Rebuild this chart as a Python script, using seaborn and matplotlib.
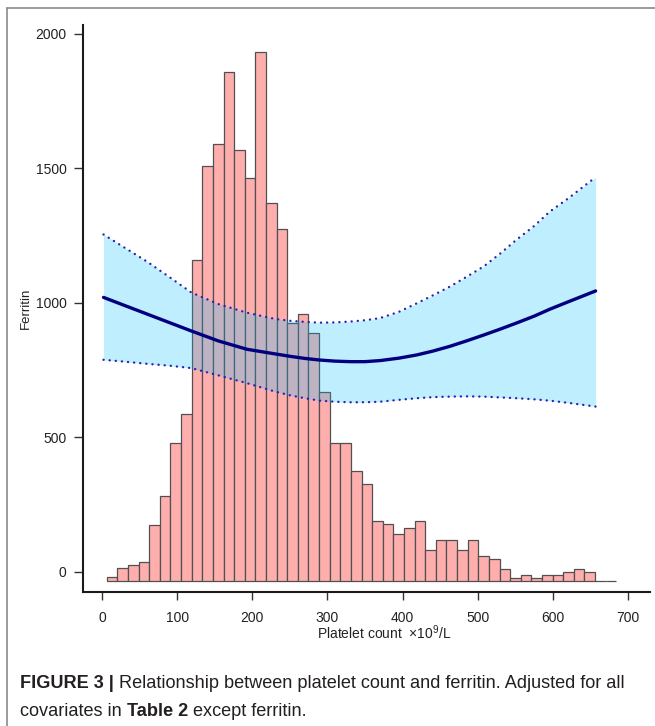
import numpy as np
import pandas as pd
import matplotlib
matplotlib.use("Agg")
import matplotlib.pyplot as plt
from matplotlib.lines import Line2D
import seaborn as sns

# ---------------- data ----------------
# histogram of platelet counts (bars scaled onto the ferritin axis)
hist_left_edge = 6.3          # platelet count of first bin edge
hist_bin_width = 14.13        # platelet count per bin
hist_base = -34.6             # ferritin-axis level of histogram baseline
hist_tops = [-20.8, 12.6, 23.8, 35, 175, 280, 480, 585, 1158, 1510,
             1592, 1860, 1569, 1463, 1931, 1370, 1275, 925, 959, 889,
             668, 480, 480, 375, 327, 189, 176, 141, 164, 189,
             82, 117, 117, 82, 117, 58, 46, 10, -25, -12,
             -25, -12, -12, 0, 11, 0, -34.6, -34.6]

# restricted cubic spline fit: platelet count vs ferritin
fit_platelet = [2, 30, 60, 90, 119, 155, 193, 230, 250, 270, 290, 310, 330, 350,
                370, 395, 419, 440, 463, 485, 508, 530, 552, 575, 596, 620, 657]
fit_est = [1020, 990, 958, 926, 895, 858, 827, 810, 801, 793, 787, 783, 781, 781,
           785, 794, 806, 820, 838, 858, 880, 902, 925, 950, 976, 1003, 1044]
fit_upper = [1254, 1205, 1153, 1095, 1038, 995, 963, 940, 933, 929, 926, 927, 930, 935,
             943, 966, 998, 1027, 1060, 1096, 1135, 1183, 1235, 1285, 1339, 1387, 1467]
fit_lower = [788, 781, 773, 766, 757, 730, 701, 670, 656, 645, 636, 632, 630, 630,
             632, 639, 645, 649, 651, 652, 651, 648, 645, 641, 636, 628, 614]

x_ticks = [0, 100, 200, 300, 400, 500, 600, 700]
y_ticks = [0, 500, 1000, 1500, 2000]

x_label = "Platelet count  ×10$^9$/L"
y_label = "Ferritin"
caption_line1 = [("FIGURE 3 |", "bold"),
                 (" Relationship between platelet count and ferritin. Adjusted for all", "normal")]
caption_line2 = [("covariates in", "normal"), (" Table 2", "bold"), (" except ferritin.", "normal")]

# ---------------- style ----------------
sns.set_theme(style="ticks")
plt.rcParams["font.family"] = ["Liberation Sans", "DejaVu Sans"]
plt.rcParams["mathtext.fontset"] = "custom"
plt.rcParams["mathtext.rm"] = "Liberation Sans"
plt.rcParams["mathtext.it"] = "Liberation Sans:italic"
plt.rcParams["mathtext.bf"] = "Liberation Sans:bold"

W, H = 655, 726
fig = plt.figure(figsize=(W / 100, H / 100), dpi=100)
fig.patch.set_facecolor("white")
ax = fig.add_axes([82.7 / W, 1 - 591.7 / H, (650 - 82.7) / W, (591.7 - 25) / H])
ax.set_facecolor("white")

# histogram bars
edges = hist_left_edge + hist_bin_width * np.arange(len(hist_tops))
heights = np.array(hist_tops) - hist_base
ax.bar(edges, heights, width=hist_bin_width, bottom=hist_base, align="edge",
       color="#FFAEAE", edgecolor="#505050", linewidth=0.9, zorder=1)

# confidence band (translucent, drawn over bars)
fit_df = pd.DataFrame({"platelet": fit_platelet, "est": fit_est,
                       "upper": fit_upper, "lower": fit_lower})
ax.fill_between(fit_df["platelet"], fit_df["lower"], fit_df["upper"],
                color="#00BFFF", alpha=0.25, linewidth=0, zorder=2)

# dotted CI bounds
for col in ["upper", "lower"]:
    sns.lineplot(data=fit_df, x="platelet", y=col, ax=ax, color="#2424B0",
                 linewidth=1.7, zorder=3, estimator=None, sort=False)
    ln = ax.lines[-1]
    ln.set_dashes((0.05, 2.55))
    ln.set_dash_capstyle("round")
# estimate
sns.lineplot(data=fit_df, x="platelet", y="est", ax=ax, color="#00007F",
             linewidth=2.4, zorder=4, estimator=None, sort=False)
ax.lines[-1].set_solid_joinstyle("round")

ax.set_xlim(-25.7, 729.4)
ax.set_ylim(-74.5, 2033)
ax.set_xticks(x_ticks)
ax.set_yticks(y_ticks)
ax.set_xticklabels([str(v) for v in x_ticks])
ax.set_yticklabels([str(v) for v in y_ticks])

for s in ["top", "right"]:
    ax.spines[s].set_visible(False)
for s in ["left", "bottom"]:
    ax.spines[s].set_linewidth(1.5)
    ax.spines[s].set_color("#1a1a1a")
ax.tick_params(axis="x", length=6, width=1, color="#333333", pad=8,
               labelsize=10, labelcolor="#222222")
ax.tick_params(axis="y", length=6.5, width=1, color="#333333", pad=5,
               labelsize=10, labelcolor="#222222")

ax.set_xlabel(x_label, fontsize=10, color="#222222")
ax.xaxis.set_label_coords((384.5 - 82.7) / (650 - 82.7), -(633 - 591.7) / (591.7 - 25))
ax.xaxis.label.set_va("center")
ax.set_ylabel(y_label, fontsize=9.5, color="#222222")
ax.yaxis.set_label_coords((25.5 - 82.7) / (650 - 82.7), 0.5)
ax.yaxis.label.set_va("center")

# figure frame (journal style)
fig.add_artist(Line2D([7 / W, 7 / W], [0, 1 - 8 / H], transform=fig.transFigure,
                      color="#8a8a8a", linewidth=1.2))
fig.add_artist(Line2D([7 / W, 1], [1 - 8 / H, 1 - 8 / H], transform=fig.transFigure,
                      color="#8a8a8a", linewidth=1.2))

# caption
renderer = fig.canvas.get_renderer()


def draw_runs(runs, x_px, y_px, size):
    x = x_px
    arts = []
    for txt, w in runs:
        t = fig.text(x / W, 1 - y_px / H, txt, fontsize=size, fontweight=w,
                     color="#231F20", va="center", ha="left")
        bb = t.get_window_extent(renderer)
        x += bb.width
        arts.append(t)
    return arts, x - x_px


# measure to fit target width of line 1
probe, wid = draw_runs(caption_line1, 20, 683, 11)
for a in probe:
    a.remove()
cap_size = 11 * (606 / wid)
draw_runs(caption_line1, 20, 683, cap_size)
draw_runs(caption_line2, 20, 711, cap_size)

fig.savefig("out.png", dpi=100, facecolor="white")
